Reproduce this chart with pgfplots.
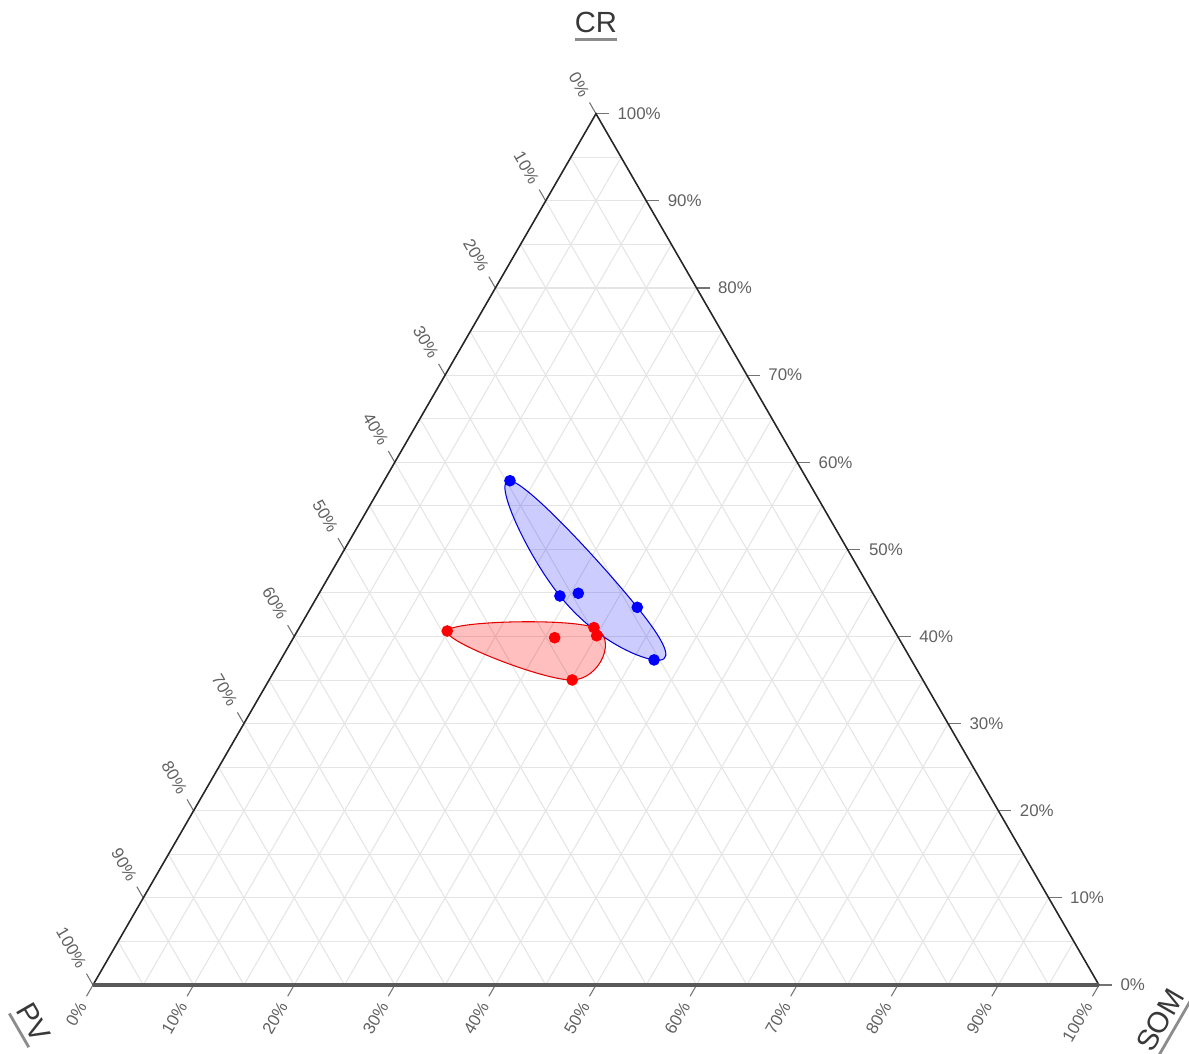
\documentclass[border=0pt]{standalone}
\usepackage{fontspec}
\setmainfont{Liberation Sans}
\usepackage{pgfplots}
\pgfplotsset{compat=1.18}
\usepackage{pgfplotstable}

% ternary data: PV SOM CR (percent)
\pgfplotstableread{
PV SOM CR
29.61 12.51 57.88
31.26 24.09 44.65
29.28 25.76 44.96
24.22 32.43 43.35
25.57 37.12 37.31
}\bluedata
\pgfplotstableread{
PV SOM CR
29.61 12.51 57.88
24.22 32.43 43.35
25.57 37.12 37.31
31.26 24.09 44.65
}\bluehull
\pgfplotstableread{
PV SOM CR
44.47 14.90 40.63
34.18 25.96 39.86
29.69 29.29 41.02
29.89 30.02 40.09
34.86 30.13 35.01
}\reddata
\pgfplotstableread{
PV SOM CR
44.47 14.90 40.63
29.69 29.29 41.02
34.86 30.13 35.01
}\redhull

\newsavebox\ulbox
\newcommand\ul[1]{\sbox\ulbox{#1}\rlap{\usebox\ulbox}\raisebox{-2.3pt}{\textcolor{black!45}{\rule{\wd\ulbox}{0.8pt}}}}

\tikzset{
  gridline/.style={draw=black!10, line width=0.3pt},
  tickline/.style={draw=black!55, line width=0.3pt},
  ticklab/.style={text=black!62, font=\fontsize{4.8}{5.2}\selectfont, inner sep=0pt},
  titlelab/.style={text=black!78, font=\fontsize{8.3}{10}\selectfont, inner sep=0pt},
}

\begin{document}
\begin{tikzpicture}
\begin{axis}[hide axis, scale only axis, width=11.89cm, height=10.54cm,
  xmin=-9.245, xmax=108.95, ymin=-6.859, ymax=97.91, clip=false]
% grid
\pgfplotsinvokeforeach{5,10,...,95}{
  \draw[gridline] (axis cs:{#1/2},{#1*0.8660254}) -- (axis cs:{100-#1/2},{#1*0.8660254});
  \draw[gridline] (axis cs:#1,0) -- (axis cs:{50+#1/2},{(100-#1)*0.8660254});
  \draw[gridline] (axis cs:{100-#1},0) -- (axis cs:{(100-#1)/2},{(100-#1)*0.8660254});
}
% ticks and labels
\pgfplotsinvokeforeach{0,10,...,100}{
  \draw[tickline] (axis cs:{100-#1/2},{#1*0.8660254}) -- ++(0.13cm,0cm) ++(0.08cm,0cm) node[anchor=west,ticklab]{#1\%};
  \draw[tickline] (axis cs:{(100-#1)/2},{(100-#1)*0.8660254}) -- ++(120:0.13cm) ++(120:0.08cm) node[anchor=east,rotate=-60,ticklab]{#1\%};
  \draw[tickline] (axis cs:#1,0) -- ++(240:0.13cm) ++(240:0.08cm) node[anchor=east,rotate=60,ticklab]{#1\%};
}
% triangle
\draw[black!85, line width=0.45pt] (axis cs:0,0) -- (axis cs:50,86.60254) -- (axis cs:100,0);
\draw[black!65, line width=0.9pt] (axis cs:0,0) -- (axis cs:100,0);

% hulls
\addplot[smooth cycle, tension=0.85, draw=blue!85!black, line width=0.3pt, fill=blue, fill opacity=0.2, draw opacity=1]
  table[x expr=\thisrow{SOM}+0.5*\thisrow{CR}, y expr=0.8660254*\thisrow{CR}] {\bluehull};
\addplot[smooth cycle, tension=0.7, draw=red!90!black, line width=0.3pt, fill=red, fill opacity=0.25, draw opacity=1]
  table[x expr=\thisrow{SOM}+0.5*\thisrow{CR}, y expr=0.8660254*\thisrow{CR}] {\redhull};
% points
\addplot[only marks, mark=*, mark size=1.45pt, color=blue]
  table[x expr=\thisrow{SOM}+0.5*\thisrow{CR}, y expr=0.8660254*\thisrow{CR}] {\bluedata};
\addplot[only marks, mark=*, mark size=1.45pt, color=red]
  table[x expr=\thisrow{SOM}+0.5*\thisrow{CR}, y expr=0.8660254*\thisrow{CR}] {\reddata};

% titles
\node[titlelab, anchor=base] at (axis cs:50,94.63) {\ul{CR}};
\node[titlelab, anchor=center, rotate=-60] at (axis cs:-6.26,-3.88) {\ul{PV}};
\node[titlelab, anchor=center, rotate=60] at (axis cs:106.4,-3.68) {\ul{SOM}};
\end{axis}
\pgfresetboundingbox
\useasboundingbox (current axis.south west) rectangle (current axis.north east);
\end{tikzpicture}
\end{document}
